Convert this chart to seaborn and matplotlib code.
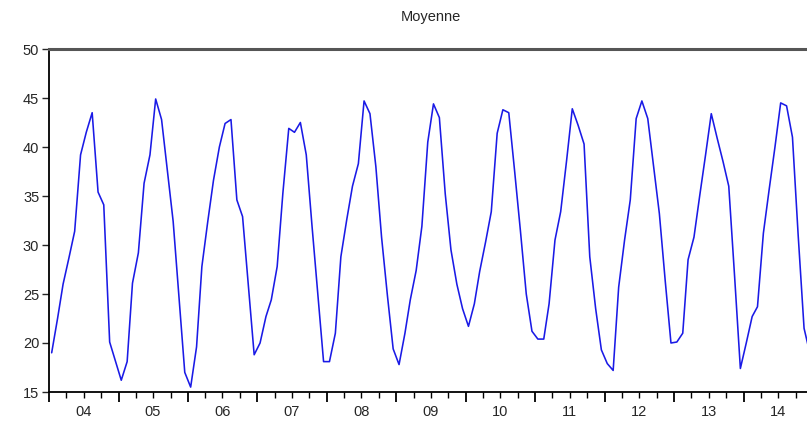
import numpy as np
import pandas as pd
import matplotlib
matplotlib.use("Agg")
import matplotlib.pyplot as plt
import matplotlib.dates as mdates
from matplotlib.ticker import FuncFormatter
import seaborn as sns

# monthly means, Jan..Dec for each year
y2004 = [19.0, 22.5, 26.0, 28.7, 31.4, 39.2, 41.5, 43.5, 35.4, 34.1, 20.1, 18.2]
y2005 = [16.2, 18.1, 26.1, 29.2, 36.3, 39.2, 44.9, 42.8, 37.5, 32.4, 24.5, 17.0]
y2006 = [15.5, 19.6, 27.8, 32.4, 36.6, 40.0, 42.4, 42.8, 34.6, 32.9, 25.7, 18.8]
y2007 = [20.0, 22.7, 24.4, 27.8, 35.3, 41.9, 41.5, 42.5, 39.2, 32.0, 25.0, 18.1]
y2008 = [18.1, 21.0, 28.8, 32.6, 36.0, 38.3, 44.7, 43.4, 38.0, 30.8, 24.8, 19.4]
y2009 = [17.8, 21.0, 24.4, 27.4, 31.9, 40.5, 44.4, 43.0, 35.2, 29.5, 26.0, 23.5]
y2010 = [21.7, 24.0, 27.3, 30.3, 33.4, 41.4, 43.8, 43.5, 37.5, 31.5, 25.0, 21.2]
y2011 = [20.4, 20.4, 24.0, 30.5, 33.4, 38.6, 43.9, 42.2, 40.3, 28.8, 23.5, 19.3]
y2012 = [17.9, 17.2, 25.7, 30.5, 34.6, 42.9, 44.7, 42.9, 38.0, 33.2, 26.3, 20.0]
y2013 = [20.1, 21.0, 28.5, 30.8, 35.0, 39.2, 43.4, 40.9, 38.5, 36.0, 26.7, 17.4]
y2014 = [20.0, 22.7, 23.7, 31.2, 35.6, 40.0, 44.5, 44.2, 41.0, 31.0, 21.5, 19.0]

moyenne = y2004 + y2005 + y2006 + y2007 + y2008 + y2009 + y2010 + y2011 + y2012 + y2013 + y2014
dates = pd.date_range("2004-01-01", periods=len(moyenne), freq="MS") + pd.Timedelta(days=14)

df = pd.DataFrame({"date": dates, "moyenne": moyenne})

sns.set_style("ticks")
plt.rcParams['font.family'] = ['Liberation Sans', 'DejaVu Sans']

fig = plt.figure(figsize=(8.07, 4.25), dpi=100)
ax = fig.add_axes([49 / 807, 33 / 425, 764 / 807, 343 / 425])

sns.lineplot(data=df, x="date", y="moyenne", color="#1a1ae6", linewidth=1.15, ax=ax)

ax.set_xlim(pd.Timestamp("2004-01-01"), pd.Timestamp("2015-01-01"))
ax.set_ylim(15, 50)
ax.set_yticks([15, 20, 25, 30, 35, 40, 45, 50])

# year boundaries = long ticks, quarters = short ticks, labels mid-year
ax.xaxis.set_major_locator(mdates.YearLocator())
ax.xaxis.set_major_formatter(FuncFormatter(lambda v, p: ""))
ax.xaxis.set_minor_locator(mdates.MonthLocator(bymonth=[4, 7, 10]))
ax.xaxis.set_minor_formatter(FuncFormatter(
    lambda v, p: mdates.num2date(v).strftime("%y") if mdates.num2date(v).month == 7 else ""))

ax.tick_params(axis="x", which="major", direction="out", length=7, width=1.3, color="black")
ax.tick_params(axis="x", which="minor", direction="out", length=4, width=1.0, color="black",
               labelsize=10.5, pad=5)
ax.tick_params(axis="y", direction="out", length=5, width=1.0, labelsize=10.5, pad=2)

ax.set_xlabel("")
ax.set_ylabel("")
ax.set_title("Moyenne", fontsize=10.5, pad=20)

for side in ["left", "bottom"]:
    ax.spines[side].set_color("black")
    ax.spines[side].set_linewidth(1.3)
ax.spines["top"].set_visible(True)
ax.spines["top"].set_color("#555555")
ax.spines["top"].set_linewidth(2.2)
ax.spines["right"].set_visible(True)
ax.spines["right"].set_color("#555555")

plt.savefig("out.png", dpi=100)
